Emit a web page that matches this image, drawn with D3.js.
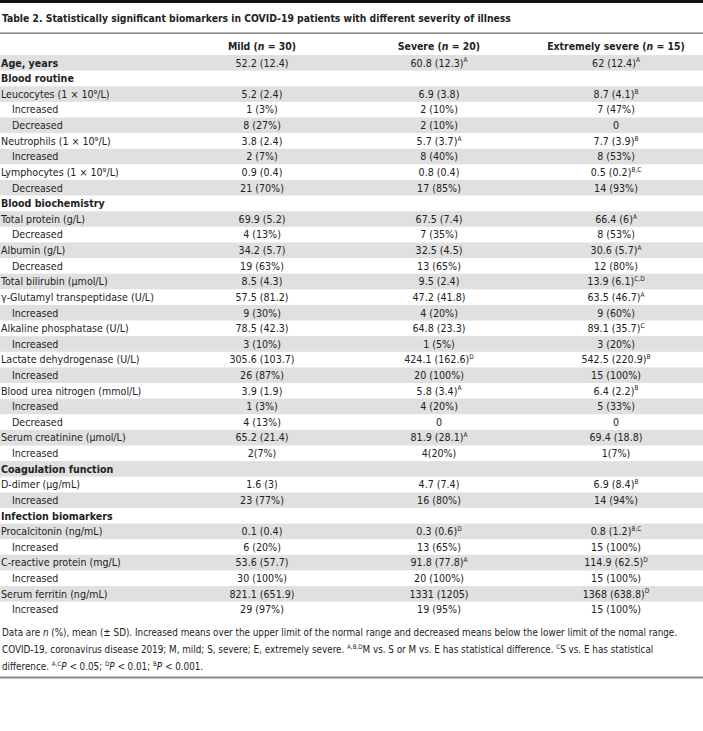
<!DOCTYPE html>
<html>
<head>
<meta charset="utf-8">
<script src="https://cdn.jsdelivr.net/npm/d3@7"></script>
<style>
  html, body { margin: 0; padding: 0; background: #fff; }
  svg text { font-family: "DejaVu Sans Condensed", "Liberation Sans Narrow", "Roboto", sans-serif; fill: #222; }
</style>
</head>
<body>
<svg id="chart" width="703" height="731"></svg>
<script>
// ---------- data ----------
const titleText = "Table 2. Statistically significant biomarkers in COVID-19 patients with different severity of illness";
const columnNames = ["Mild", "Severe", "Extremely severe"];
const columnN = [30, 20, 15];

const rowLabels = [
  "Age, years", "Blood routine", "Leucocytes (1 × 10⁹/L)", "Increased", "Decreased",
  "Neutrophils (1 × 10⁹/L)", "Increased", "Lymphocytes (1 × 10⁹/L)", "Decreased",
  "Blood biochemistry", "Total protein (g/L)", "Decreased", "Albumin (g/L)", "Decreased",
  "Total bilirubin (μmol/L)", "γ-Glutamyl transpeptidase (U/L)", "Increased",
  "Alkaline phosphatase (U/L)", "Increased", "Lactate dehydrogenase (U/L)", "Increased",
  "Blood urea nitrogen (mmol/L)", "Increased", "Decreased", "Serum creatinine (μmol/L)", "Increased",
  "Coagulation function", "D-dimer (μg/mL)", "Increased",
  "Infection biomarkers", "Procalcitonin (ng/mL)", "Increased", "C-reactive protein (mg/L)", "Increased",
  "Serum ferritin (ng/mL)", "Increased"
];
// kind: b = bold variable, s = section heading, v = variable, i = indented sub-row
const rowKinds = [
  "b","s","v","i","i","v","i","v","i",
  "s","v","i","v","i","v","v","i","v","i","v","i","v","i","i","v","i",
  "s","v","i","s","v","i","v","i","v","i"
];
const mildValues = [
  "52.2 (12.4)", "", "5.2 (2.4)", "1 (3%)", "8 (27%)", "3.8 (2.4)", "2 (7%)", "0.9 (0.4)", "21 (70%)",
  "", "69.9 (5.2)", "4 (13%)", "34.2 (5.7)", "19 (63%)", "8.5 (4.3)", "57.5 (81.2)", "9 (30%)",
  "78.5 (42.3)", "3 (10%)", "305.6 (103.7)", "26 (87%)", "3.9 (1.9)", "1 (3%)", "4 (13%)", "65.2 (21.4)", "2(7%)",
  "", "1.6 (3)", "23 (77%)", "", "0.1 (0.4)", "6 (20%)", "53.6 (57.7)", "30 (100%)", "821.1 (651.9)", "29 (97%)"
];
const mildSup = new Array(36).fill("");
const severeValues = [
  "60.8 (12.3)", "", "6.9 (3.8)", "2 (10%)", "2 (10%)", "5.7 (3.7)", "8 (40%)", "0.8 (0.4)", "17 (85%)",
  "", "67.5 (7.4)", "7 (35%)", "32.5 (4.5)", "13 (65%)", "9.5 (2.4)", "47.2 (41.8)", "4 (20%)",
  "64.8 (23.3)", "1 (5%)", "424.1 (162.6)", "20 (100%)", "5.8 (3.4)", "4 (20%)", "0", "81.9 (28.1)", "4(20%)",
  "", "4.7 (7.4)", "16 (80%)", "", "0.3 (0.6)", "13 (65%)", "91.8 (77.8)", "20 (100%)", "1331 (1205)", "19 (95%)"
];
const severeSup = [
  "A", "", "", "", "", "A", "", "", "",
  "", "", "", "", "", "", "", "",
  "", "", "D", "", "A", "", "", "A", "",
  "", "", "", "", "D", "", "A", "", "", ""
];
const extremeValues = [
  "62 (12.4)", "", "8.7 (4.1)", "7 (47%)", "0", "7.7 (3.9)", "8 (53%)", "0.5 (0.2)", "14 (93%)",
  "", "66.4 (6)", "8 (53%)", "30.6 (5.7)", "12 (80%)", "13.9 (6.1)", "63.5 (46.7)", "9 (60%)",
  "89.1 (35.7)", "3 (20%)", "542.5 (220.9)", "15 (100%)", "6.4 (2.2)", "5 (33%)", "0", "69.4 (18.8)", "1(7%)",
  "", "6.9 (8.4)", "14 (94%)", "", "0.8 (1.2)", "15 (100%)", "114.9 (62.5)", "15 (100%)", "1368 (638.8)", "15 (100%)"
];
const extremeSup = [
  "A", "", "B", "", "", "B", "", "B,C", "",
  "", "A", "", "A", "", "C,D", "A", "",
  "C", "", "B", "", "B", "", "", "", "",
  "", "B", "", "", "B,C", "", "D", "", "D", ""
];
// footnote lines: segments [text, style]  style: "" normal, "i" italic, "sup" superscript
const footnoteLines = [
  [["Data are ", ""], ["n", "i"], [" (%), mean (± SD). Increased means over the upper limit of the normal range and decreased means below the lower limit of the nσmal range.", ""]],
  [["COVID-19, coronavirus disease 2019; M, mild; S, severe; E, extremely severe. ", ""], ["A,B,D", "sup"], ["M vs. S or M vs. E has statistical difference. ", ""], ["C", "sup"], ["S vs. E has statistical", ""]],
  [["difference. ", ""], ["A,C", "sup"], ["P", "i"], [" < 0.05; ", ""], ["D", "sup"], ["P", "i"], [" < 0.01; ", ""], ["B", "sup"], ["P", "i"], [" < 0.001.", ""]]
];

// ---------- layout ----------
const W = 703;
const svg = d3.select("#chart");
const rowIdx = d3.range(rowLabels.length);
const y = d3.scaleBand().domain(rowIdx).range([55, 55 + 15.62 * rowLabels.length]).paddingInner(0);
const x = d3.scalePoint().domain(columnNames).range([262, 616]);
const bodySize = 10.6;

// top black rule
svg.append("rect").attr("x", 0).attr("y", 0).attr("width", W).attr("height", 3).attr("fill", "#111");
// title
svg.append("text").attr("x", 2).attr("y", 22).attr("font-weight", "bold").attr("font-size", 10.3).text(titleText);
// rule under title
svg.append("rect").attr("x", 0).attr("y", 32.5).attr("width", W).attr("height", 1.3).attr("fill", "#6e6e6e");

// header
const hdr = svg.append("g").selectAll("text").data(columnNames).join("text")
  .attr("x", d => x(d)).attr("y", 50).attr("text-anchor", "middle")
  .attr("font-weight", "bold").attr("font-size", 10.4);
hdr.append("tspan").text(d => d + " (");
hdr.append("tspan").attr("font-style", "italic").text("n");
hdr.append("tspan").text((d, i) => " = " + columnN[i] + ")");

// row shading
svg.append("g").selectAll("rect").data(rowIdx.filter(i => i % 2 === 0)).join("rect")
  .attr("x", 0).attr("width", W).attr("y", i => y(i)).attr("height", y.bandwidth())
  .attr("fill", "#e0e0e0");

// row labels
svg.append("g").selectAll("text").data(rowIdx).join("text")
  .attr("x", i => rowKinds[i] === "i" ? 12 : 1)
  .attr("y", i => y(i) + 11.6)
  .attr("font-size", bodySize)
  .attr("font-weight", i => (rowKinds[i] === "b" || rowKinds[i] === "s") ? "bold" : null)
  .text(i => rowLabels[i]);

// values
const valueCols = [[mildValues, mildSup], [severeValues, severeSup], [extremeValues, extremeSup]];
valueCols.forEach(([vals, sups], c) => {
  const t = svg.append("g").selectAll("text").data(rowIdx.filter(i => vals[i] !== "")).join("text")
    .attr("x", x(columnNames[c])).attr("y", i => y(i) + 11.6)
    .attr("text-anchor", "middle").attr("font-size", bodySize);
  t.append("tspan").text(i => vals[i]);
  t.filter(i => sups[i] !== "").append("tspan")
    .attr("dy", -4.2).attr("font-size", 6.5).text(i => sups[i]);
});

// footnote
const fnSize = 9.8;
footnoteLines.forEach((segs, li) => {
  const t = svg.append("text").attr("x", 2).attr("y", 636 + li * 17).attr("font-size", fnSize);
  let raised = false;
  segs.forEach(([txt, st]) => {
    const sp = t.append("tspan").text(txt);
    if (st === "sup") {
      sp.attr("font-size", 6.2).attr("dy", raised ? 0 : -3.8);
      raised = true;
    } else {
      if (raised) { sp.attr("dy", 3.8); raised = false; }
      if (st === "i") sp.attr("font-style", "italic");
    }
  });
});

// bottom rule
svg.append("rect").attr("x", 0).attr("y", 676.5).attr("width", W).attr("height", 2).attr("fill", "#8a8a8a");
</script>
</body>
</html>
